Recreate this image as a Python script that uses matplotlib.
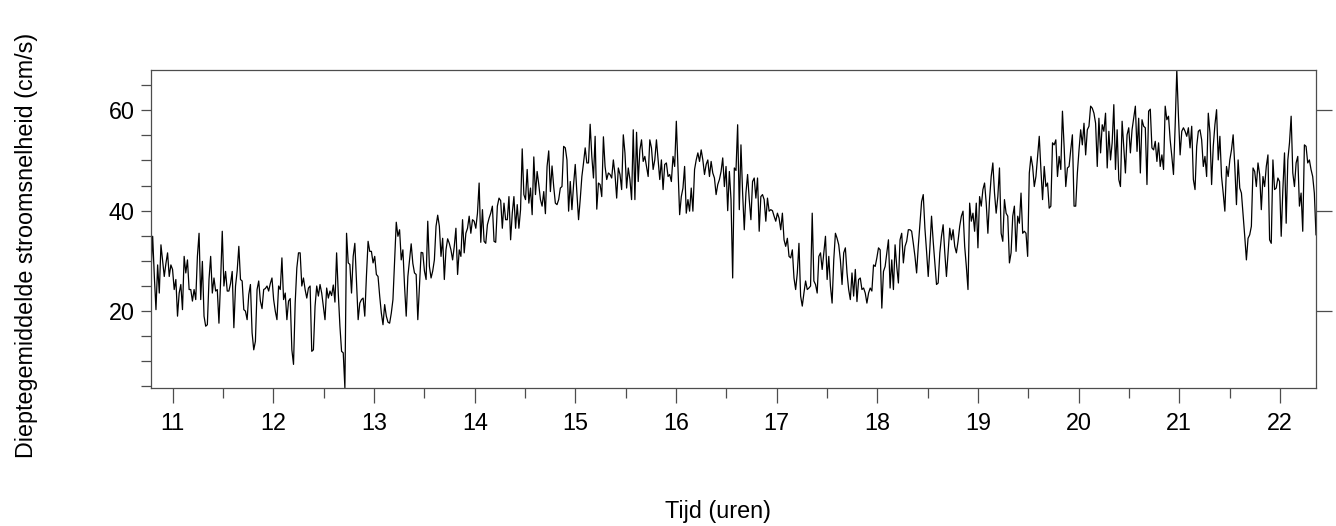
import numpy as np
import matplotlib.pyplot as plt
from matplotlib.ticker import MultipleLocator

# depth-averaged current speed (cm/s), one sample per minute-ish, 10.78 h -> 22.36 h
t_start = 10.784
t_end = 22.358

speed_11 = [27.6, 34.9, 27.0, 20.3, 29.2, 23.6, 33.2, 30.0, 26.9, 29.5, 31.6, 26.9, 29.2, 28.3,
            24.3, 26.3, 19.0, 23.6, 25.3, 20.3, 30.9, 27.6, 30.2, 24.3, 24.3, 22.0, 24.3, 22.3,
            30.9, 35.5, 22.3, 29.9, 19.0, 17.0, 17.3, 26.3, 30.9, 23.6, 26.6, 24.0, 24.3, 17.6,
            26.0, 35.9, 25.0, 27.9, 24.0, 24.0, 25.5, 27.9, 16.7, 25.0, 28.0, 32.9, 26.3, 26.0,
            20.3, 20.0, 18.3, 23.3, 25.3, 15.7, 12.3, 14.0, 24.3, 26.0, 22.0, 20.5, 24.3]
speed_12 = [24.5, 25.0, 24.0, 25.5, 26.6, 22.3, 20.0, 18.3, 25.0, 24.3, 30.6, 22.3, 23.6, 18.3,
            22.0, 22.5, 12.3, 9.4, 21.6, 28.6, 31.6, 31.6, 25.0, 26.6, 24.3, 22.6, 24.6, 25.0,
            12.0, 12.3, 21.0, 25.0, 23.0, 25.3, 23.6, 21.0, 18.3, 24.6, 22.6, 24.0, 23.1, 25.2,
            21.8, 31.6, 23.6, 17.0, 12.0, 11.7, 4.7, 35.5, 29.6, 29.3, 23.6, 30.9, 33.5, 26.0,
            18.3, 21.6, 22.3, 22.6, 19.0, 27.0, 33.9, 31.9, 31.9, 29.6, 30.9, 27.3, 26.9, 23.0,
            19.6, 17.3]
speed_13 = [21.3, 19.0, 17.8, 17.6, 19.6, 22.3, 30.2, 37.7, 34.9, 36.2, 30.2, 32.2, 25.0, 19.0,
            26.9, 30.2, 33.4, 29.5, 27.6, 27.3, 18.3, 25.0, 31.7, 31.6, 28.0, 26.3, 37.9, 28.9,
            26.6, 28.0, 30.2, 36.9, 39.1, 36.9, 30.9, 34.5, 26.3, 32.2, 34.4, 33.5, 32.2,
            30.2, 32.9, 36.5, 27.3, 32.2, 30.9, 38.2, 31.6, 35.5, 36.5, 38.9, 35.5,
            38.2, 37.9, 36.5, 39.5, 45.5, 33.7, 40.2, 33.9, 33.5, 37.2, 38.5, 39.5, 40.9, 33.9]
speed_14 = [33.7, 40.9, 42.5, 42.0, 36.5, 41.5, 38.2, 38.2, 42.8, 34.2, 39.5, 42.8, 36.5, 41.2,
            36.5, 40.2, 52.3, 43.2, 42.2, 48.2, 41.5, 44.5, 39.2, 50.7, 43.2, 47.8, 45.2, 42.2,
            40.9, 43.8, 39.4, 48.8, 51.9, 43.8, 48.9, 44.8, 41.5, 41.2, 42.2, 44.5, 44.8, 52.8,
            52.5, 50.1, 39.9, 45.8, 40.2, 45.2, 49.2, 43.5, 38.2, 42.2, 46.8, 49.5, 52.5, 49.5,
            49.5, 57.2, 50.8, 46.5, 54.8, 40.3, 45.5, 45.2, 42.8, 54.7, 48.8, 46.2, 47.5, 47.2]
speed_15 = [46.5, 50.1, 47.2, 42.5, 48.5, 47.2, 44.2, 55.1, 51.5, 44.5, 48.5, 46.2, 42.2, 56.1,
            42.2, 55.6, 45.8, 52.1, 54.1, 49.8, 50.8, 48.8, 46.8, 54.1, 52.5, 48.2, 50.1, 54.1,
            50.1, 46.2, 50.1, 44.2, 49.2, 49.5, 46.8, 47.2, 45.8, 50.8, 48.8, 57.8, 48.2, 39.2,
            42.8, 44.5, 48.8, 39.5, 42.2, 39.9, 44.5, 39.9, 48.2, 50.1, 51.5, 49.8, 52.1, 50.1,
            47.2, 49.2, 50.1, 46.8, 49.8, 47.5, 46.5, 43.2, 45.2, 46.2, 47.8, 50.5, 44.8, 48.8]
speed_16 = [40.0, 47.8, 42.2, 26.6, 48.5, 48.0, 57.1, 40.2, 53.1, 43.5, 36.2, 43.5, 47.2, 42.2,
            38.2, 45.8, 46.5, 42.5, 46.5, 35.9, 42.8, 43.2, 42.2, 37.9, 42.5, 39.9, 40.2, 40.0,
            38.9, 37.9, 39.5, 38.5, 36.2, 39.5, 34.2, 32.9, 34.5, 30.9, 30.6, 32.2, 26.6, 24.3,
            27.6, 33.5, 23.0, 21.0, 23.6, 26.0, 24.3, 24.6, 25.0, 39.5, 26.0, 25.3, 23.6, 30.9,
            31.6, 28.3, 31.6, 34.9, 26.3, 30.9, 25.0, 21.6, 30.2, 35.5, 34.5, 33.2, 30.2, 25.3]
speed_17 = [31.6, 32.6, 27.6, 24.3, 22.3, 27.6, 23.0, 28.3, 21.9, 26.3, 26.6, 24.3, 24.6, 23.6,
            21.6, 23.6, 24.6, 24.0, 29.2, 28.9, 30.6, 32.6, 32.2, 20.6, 27.9, 28.9, 31.6, 34.2,
            24.6, 30.2, 24.3, 33.2, 28.9, 25.6, 34.2, 35.5, 29.6, 32.9, 33.9, 36.2, 36.2, 35.9,
            33.5, 30.9, 27.6, 32.9, 37.5, 41.8, 43.2, 36.5, 31.9, 26.9, 32.6, 38.9, 33.9, 29.6,
            25.3, 25.6, 31.6, 34.9, 37.2, 31.6, 26.9, 31.6, 36.5, 34.2, 36.2, 32.9, 31.6, 33.9]
speed_19 = [36.9, 38.9, 39.9, 32.9, 28.9, 24.3, 41.5, 37.9, 39.5, 35.9, 41.5, 32.6, 42.8, 40.9,
            44.2, 45.5, 41.5, 35.5, 42.2, 46.8, 49.5, 43.5, 39.5, 42.8, 48.5, 35.5, 33.9, 42.2,
            39.5, 38.9, 29.6, 31.6, 38.9, 40.9, 31.9, 38.9, 37.5, 43.5, 35.5, 35.9, 35.5, 30.9,
            47.5, 50.8, 48.8, 44.8, 46.8, 50.8, 54.8, 48.2, 42.2, 48.8, 44.8, 45.5, 40.5, 40.9,
            53.5, 53.1, 54.1, 46.8, 50.8, 48.2, 59.8, 52.8, 44.8, 48.5, 48.8, 52.1, 55.1, 40.9]
speed_20 = [40.9, 47.5, 52.1, 56.1, 53.1, 57.4, 51.1, 56.1, 56.8, 60.8, 60.4, 59.4, 57.4, 48.8,
            58.4, 51.5, 57.1, 55.8, 59.4, 48.5, 55.8, 50.1, 53.5, 61.1, 48.2, 56.1, 46.2, 44.8,
            57.8, 52.8, 47.5, 55.1, 56.5, 51.5, 56.1, 58.4, 60.8, 51.8, 58.4, 47.5, 58.1, 56.8,
            56.5, 45.2, 59.8, 60.2, 52.5, 52.1, 53.8, 49.8, 53.5, 48.8, 51.1, 48.2, 60.8, 58.1,
            58.8, 54.1, 50.8, 47.2, 56.8, 68.0, 58.8, 51.1, 55.8, 56.5, 55.8, 54.8, 56.5, 52.5]
speed_21 = [56.8, 46.2, 44.2, 52.8, 55.8, 56.1, 54.1, 48.8, 50.8, 46.8, 59.4, 55.5, 45.2, 52.8,
            57.1, 60.1, 50.1, 54.8, 46.8, 43.5, 39.9, 48.8, 46.8, 50.1, 52.1, 55.1, 48.8, 41.2,
            50.1, 44.5, 43.5, 39.2, 34.9, 30.2, 34.5, 35.2, 36.9, 48.5, 47.8, 44.8, 49.5, 47.2,
            40.2, 46.8, 44.8, 48.8, 51.1, 34.2, 33.5, 50.1, 44.2, 44.5, 46.5, 45.8, 34.9, 44.2,
            51.5, 37.5, 50.1, 53.5, 58.8, 47.5, 44.8, 49.5, 50.8, 40.9, 43.5, 35.9, 53.1, 52.8,
            49.5, 50.1, 48.2, 46.8, 43.5, 35.2]

speed = np.array(speed_11 + speed_12 + speed_13 + speed_14 + speed_15 + speed_16
                 + speed_17 + speed_19 + speed_20 + speed_21)
hours = np.linspace(t_start, t_end, len(speed))

frame_col = "#4d4d4d"
plt.rcParams["font.family"] = ["Liberation Sans", "DejaVu Sans"]

fig = plt.figure(figsize=(13.36, 5.26), dpi=100)
ax = fig.add_axes([151 / 1336, 1 - 388 / 526, (1316 - 151) / 1336, (388 - 70) / 526])

ax.plot(hours, speed, color="black", linewidth=0.9)

ax.set_xlim(hours[0], hours[-1])
ax.set_ylim(speed.min(), speed.max())

# x: whole hours labelled, half hours as short ticks
ax.xaxis.set_major_locator(MultipleLocator(1))
ax.xaxis.set_minor_locator(MultipleLocator(0.5))
ax.tick_params(axis="x", which="major", length=10.8, width=0.9, color=frame_col,
               pad=6.5, labelsize=16.8)
ax.tick_params(axis="x", which="minor", length=7.2, width=0.9, color=frame_col)

# y: labels every 20, unlabelled ticks every 5
ax.yaxis.set_major_locator(MultipleLocator(20))
ax.yaxis.set_minor_locator(MultipleLocator(5))
ax.tick_params(axis="y", which="both", length=7.5, width=0.9, color=frame_col,
               pad=4.3, labelsize=16.8)

for s in ax.spines.values():
    s.set_color(frame_col)
    s.set_linewidth(0.9)

# right-hand ticks only at the labelled values
ax_r = ax.twinx()
ax_r.set_ylim(ax.get_ylim())
ax_r.set_yticks([20, 40, 60])
ax_r.set_yticklabels([])
ax_r.tick_params(axis="y", length=11.3, width=0.9, color=frame_col)
for s in ax_r.spines.values():
    s.set_visible(False)

fig.text(27 / 1336, 1 - 245 / 526, "Dieptegemiddelde stroomsnelheid (cm/s)",
         rotation=90, ha="center", va="center", fontsize=16.8)
fig.text(718 / 1336, 1 - 518 / 526, "Tijd (uren)", ha="center", va="baseline", fontsize=16.8)

fig.savefig("out.png", dpi=100)
